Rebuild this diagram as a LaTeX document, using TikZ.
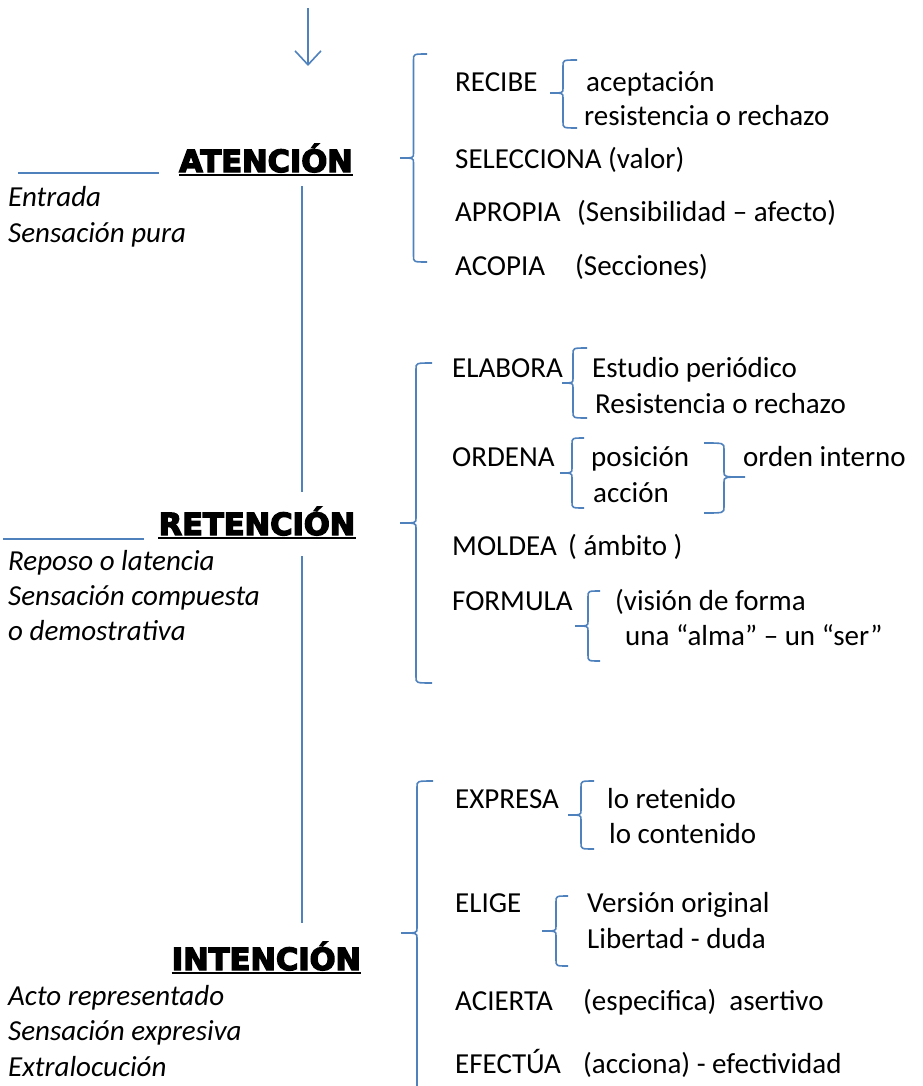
\documentclass[tikz,border=0pt]{standalone}
\usepackage{fontspec}
\setmainfont{Carlito}
\newfontfamily\headfont[BoldFeatures={FakeBold=4.5}]{DejaVu Sans}
\usetikzlibrary{arrows.meta}
\definecolor{lineblue}{HTML}{4F81BD}
\tikzset{
  bl/.style={draw=lineblue, line width=1.6pt},
  txt/.style={anchor=base west, inner sep=0pt, font=\fontsize{29}{34}\selectfont},
  itxt/.style={anchor=base west, inner sep=0pt, font=\fontsize{29}{34}\selectfont\itshape},
  head/.style={anchor=base, inner sep=0pt, font=\fontsize{30.5}{34}\selectfont\headfont\bfseries},
  ul/.style={draw=black, line width=2pt}
}
% left brace: tip x, spine x, hook x, top y, mid y, bottom y
\newcommand\mybrL[6]{%
  \draw[bl] (#3,#4) .. controls (#2,#4) .. (#2,#4+6) -- (#2,#5-5)
    .. controls (#2,#5) .. (#1,#5) .. controls (#2,#5) .. (#2,#5+5)
    -- (#2,#6-6) .. controls (#2,#6) .. (#3,#6);}
\begin{document}
\begin{tikzpicture}[x=1pt,y=-1pt]
\useasboundingbox (0,0) rectangle (922,1086);

% top arrow
\coordinate (arrtop) at (308,8);
\coordinate (arrtip) at (308,66);
\draw[bl, -{Straight Barb[length=14pt,width=26pt,line width=1.6pt]}] (arrtop) -- (arrtip);

% headings
\node[head] (aten) at (266,172) {ATENCIÓN};
\node[head] (reten) at (257,535) {RETENCIÓN};
\node[head] (inten) at (266.5,970) {INTENCIÓN};
\foreach \h in {aten,reten,inten}
  \draw[ul] ([yshift=-3pt]\h.base west) -- ([yshift=-3pt]\h.base east);

% left horizontal lines
\coordinate (la1) at (18,173);
\coordinate (la2) at (159,173);
\draw[bl] (la1) -- (la2);
\coordinate (lr1) at (3,539);
\coordinate (lr2) at (144,539);
\draw[bl] (lr1) -- (lr2);

% vertical lines
\coordinate (v1a) at (302,186);
\coordinate (v1b) at (302,492);
\coordinate (v2a) at (302,556);
\coordinate (v2b) at (302,923);
\draw[bl] (v1a) -- (v1b);
\draw[bl] (v2a) -- (v2b);

% left italic texts
\node[itxt] (e1) at (8,206) {Entrada};
\node[itxt] (e2) at (8,242) {Sensación pura};
\node[itxt] (r1) at (8,570) {Reposo o latencia};
\node[itxt] (r2) at (8,605) {Sensación compuesta};
\node[itxt] (r3) at (8,640) {o demostrativa};
\node[itxt] (i1) at (8,1005) {Acto representado};
\node[itxt] (i2) at (8,1040) {Sensación expresiva};
\node[itxt] (i3) at (8,1076) {Extralocución};

% big braces
\mybrL{400}{413.5}{427}{54}{158}{262}
\mybrL{400}{416}{432}{363}{523}{683}
\draw[bl] (433,781) .. controls (417,781) .. (417,787) -- (417,928)
  .. controls (417,933) .. (401,933) .. controls (417,933) .. (417,938) -- (417,1090);

% ATENCIÓN group
\node[txt] (recibe) at (455,92) {RECIBE};
\node[txt] (acep) at (586,92) {aceptación};
\node[txt] (resis) at (584,126) {resistencia o rechazo};
\mybrL{550}{563}{577}{60}{93}{128}
\node[txt] (selec) at (455,168) {SELECCIONA (valor)};
\node[txt] (apro) at (455,222) {APROPIA};
\node[txt] (apro2) at (577,222) {(Sensibilidad – afecto)};
\node[txt] (acop) at (455,275) {ACOPIA};
\node[txt] (acop2) at (575,275) {(Secciones)};

% RETENCIÓN group
\node[txt] (elab) at (452,377) {ELABORA};
\node[txt] (estu) at (592,377) {Estudio periódico};
\node[txt] (resi2) at (595,413) {Resistencia o rechazo};
\mybrL{562}{573}{587}{348}{383}{418}
\node[txt] (orde) at (452,466) {ORDENA};
\node[txt] (posi) at (591,466) {posición};
\node[txt] (acci) at (593,502) {acción};
\mybrL{560}{572}{584}{438}{473}{508}
\mybrL{745}{724}{704}{443}{477}{513}
\node[txt] (ordi) at (743,466) {orden interno};
\node[txt] (mold) at (452,555) {MOLDEA};
\node[txt] (mold2) at (568,555) {( ámbito )};
\node[txt] (form) at (452,610) {FORMULA};
\node[txt] (visi) at (615,610) {(visión de forma};
\node[txt] (alma) at (625,645) {una “alma” – un “ser”};
\mybrL{575}{588}{600}{591}{626}{661}

% INTENCIÓN group
\node[txt] (expr) at (455,808) {EXPRESA};
\node[txt] (rete) at (607,808) {lo retenido};
\node[txt] (cont) at (609,843) {lo contenido};
\mybrL{568}{581}{594}{781}{815}{849}
\node[txt] (elig) at (455,912) {ELIGE};
\node[txt] (vers) at (587,912) {Versión original};
\node[txt] (libe) at (587,948) {Libertad - duda};
\mybrL{542}{556}{568}{896}{931}{966}
\node[txt] (acie) at (455,1010) {ACIERTA};
\node[txt] (acie2) at (583,1010) {(especifica)\ \ asertivo};
\node[txt] (efec) at (455,1073) {EFECTÚA};
\node[txt] (efec2) at (583,1073) {(acciona) - efectividad};
\end{tikzpicture}
\end{document}
